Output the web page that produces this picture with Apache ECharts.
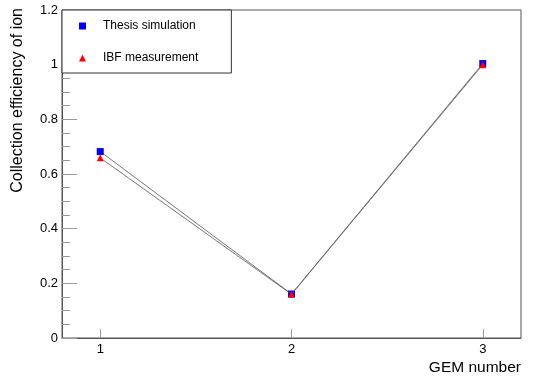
<!DOCTYPE html>
<html>
<head>
<meta charset="utf-8">
<script src="https://cdn.jsdelivr.net/npm/echarts@6/dist/echarts.min.js"></script>
<style>
  html, body { margin: 0; padding: 0; background: #fff; }
  #chart { width: 534px; height: 381px; }
</style>
</head>
<body>
<div id="chart"></div>
<script>
// GEM stage index and ion collection efficiency per stage
const gemNumbers = [1, 2, 3];
const thesisSimulation = [0.682, 0.161, 1.004];
const ibfMeasurement = [0.659, 0.160, 1.000];
const xTickValues = [1, 2, 3];

const FONT = '"Liberation Sans", Arial, Helvetica, sans-serif';
const AXIS_COLOR = '#555';

function pairs(xs, ys) {
  return xs.map((x, i) => [x, ys[i]]);
}

const chart = echarts.init(document.getElementById('chart'));
chart.setOption({
  animation: false,
  backgroundColor: '#fff',
  grid: {
    left: 62, right: 13, top: 10, bottom: 43,
    show: true, borderColor: AXIS_COLOR, borderWidth: 1, backgroundColor: 'transparent'
  },
  legend: {
    left: 62, top: 10,
    orient: 'vertical',
    backgroundColor: '#fff',
    borderColor: '#333', borderWidth: 1,
    padding: [10, 33, 9, 17],
    itemGap: 20,
    itemWidth: 7, itemHeight: 7,
    textStyle: { fontFamily: FONT, fontSize: 12, color: '#000', padding: [0, 0, 0, 12] },
    data: [
      { name: 'Thesis simulation', icon: 'rect', itemStyle: { color: '#0000ff' } },
      { name: 'IBF measurement', icon: 'triangle', itemStyle: { color: '#ff0000' } }
    ]
  },
  xAxis: {
    type: 'value', min: 0.8, max: 3.2,
    axisLine: { show: true, lineStyle: { color: AXIS_COLOR, width: 1 } },
    axisTick: { show: true, inside: true, length: 9, customValues: xTickValues, lineStyle: { color: '#999' } },
    axisLabel: { customValues: xTickValues, fontFamily: FONT, fontSize: 13, color: '#000', margin: 5 },
    splitLine: { show: false }
  },
  yAxis: {
    type: 'value', min: 0, max: 1.2, interval: 0.2,
    axisLine: { show: true, lineStyle: { color: AXIS_COLOR, width: 1 } },
    axisTick: { show: true, inside: true, length: 15, lineStyle: { color: '#999' } },
    minorTick: { show: true, splitNumber: 4, length: 8, lineStyle: { color: '#999' } },
    axisLabel: {
      fontFamily: FONT, fontSize: 13, color: '#000', margin: 4,
      formatter: v => String(Math.round(v * 10) / 10)
    },
    splitLine: { show: false }
  },
  graphic: [
    {
      type: 'text', x: 18, y: 8, rotation: Math.PI / 2,
      style: {
        text: 'Collection efficiency of ion', fontFamily: FONT, fontSize: 16,
        fill: '#000', align: 'right', verticalAlign: 'middle'
      }
    },
    {
      type: 'text', x: 521, y: 368,
      style: {
        text: 'GEM number', fontFamily: FONT, fontSize: 15.5,
        fill: '#000', align: 'right', verticalAlign: 'middle'
      }
    }
  ],
  series: [
    {
      name: 'Thesis simulation', type: 'line',
      data: pairs(gemNumbers, thesisSimulation),
      symbol: 'rect', symbolSize: 7,
      itemStyle: { color: '#0000ff' },
      lineStyle: { color: '#555', width: 0.8 },
      z: 3
    },
    {
      name: 'IBF measurement', type: 'line',
      data: pairs(gemNumbers, ibfMeasurement),
      symbol: 'triangle', symbolSize: 7,
      itemStyle: { color: '#ff0000' },
      lineStyle: { color: '#555', width: 0.8 },
      z: 4
    }
  ]
});
</script>
</body>
</html>
